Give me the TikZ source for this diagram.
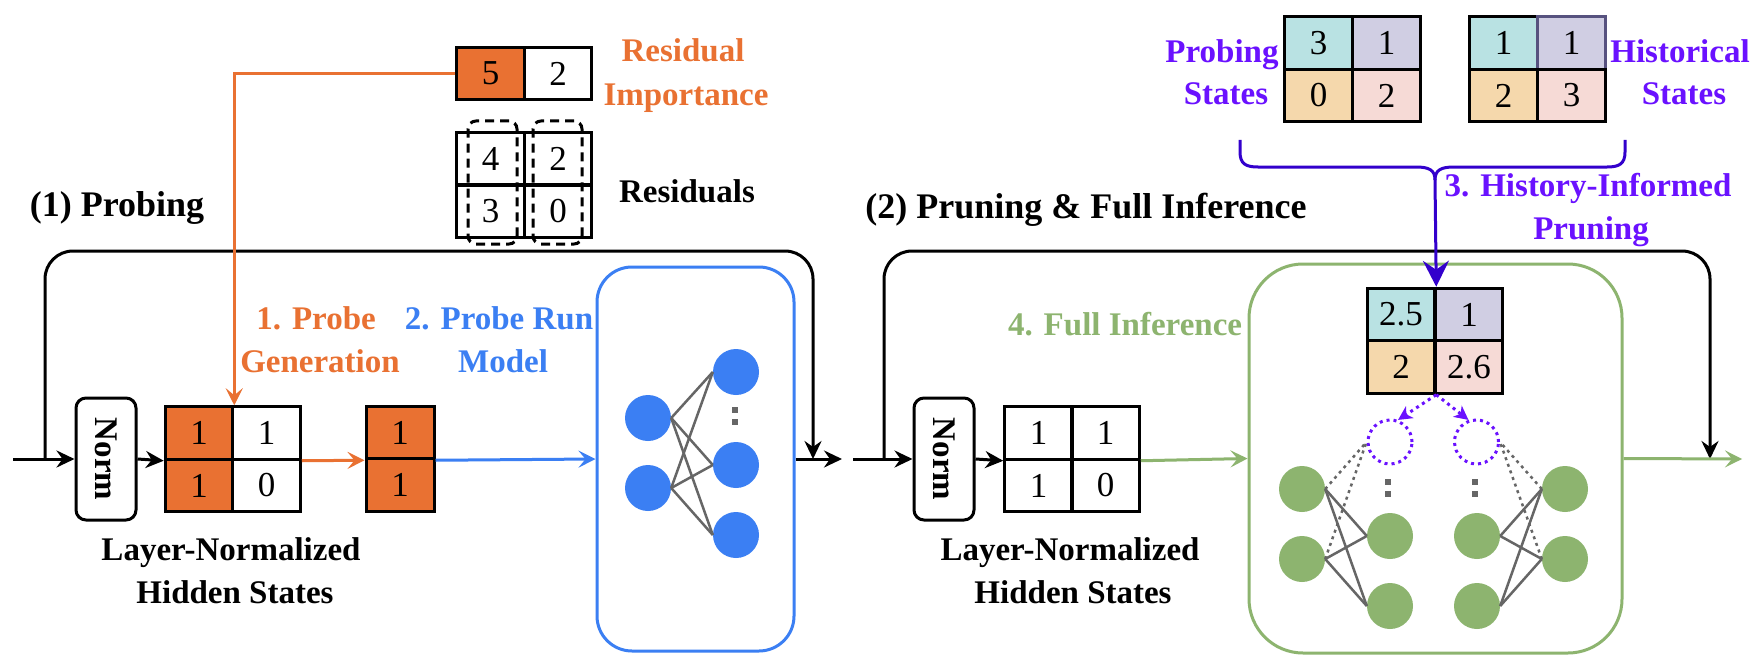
\documentclass[tikz,border=0pt]{standalone}
\usepackage{fontspec}
\usepackage{graphicx}
\setmainfont{Liberation Serif}
\usetikzlibrary{arrows.meta}
\definecolor{cOrange}{HTML}{E97132}
\definecolor{cBlue}{HTML}{3B7FF3}
\definecolor{cGreen}{HTML}{8DB46F}
\definecolor{cPurple}{HTML}{6A11FF}
\definecolor{cIndigo}{HTML}{3300CC}
\definecolor{cTeal}{HTML}{B9E2E3}
\definecolor{cLav}{HTML}{D0CEE3}
\definecolor{cBeige}{HTML}{F5D8AC}
\definecolor{cPink}{HTML}{F6DAD6}
\definecolor{cGray}{HTML}{666666}
\definecolor{cEdge}{HTML}{57527F}
\begin{document}
\begin{tikzpicture}[x=1pt,y=-1pt,
  lbl/.style={font=\fontsize{33}{40}\selectfont\bfseries, inner sep=0pt, anchor=base},
  ttl/.style={font=\fontsize{36}{42}\selectfont\bfseries, inner sep=0pt, anchor=base},
  cell/.style={draw=black, line width=3pt, minimum width=67.5pt, minimum height=52.5pt, inner sep=0pt, font=\fontsize{35}{40}\selectfont},
  normbox/.style={draw=black, line width=3pt, rounded corners=10pt, minimum width=60pt, minimum height=122pt, inner sep=0pt, font=\fontsize{33}{40}\selectfont\bfseries},
  blk/.style={draw=black, line width=3pt, -{Stealth[length=18pt,width=17pt,inset=6pt]}},
  colarrow/.style={line width=3pt, -{Stealth[length=17pt,width=17pt,inset=7pt]}},
  bnode/.style={circle, fill=cBlue, minimum size=46pt, inner sep=0pt},
  gnode/.style={circle, fill=cGreen, minimum size=46pt, inner sep=0pt},
  netline/.style={draw=cGray, line width=2.5pt},
  netdot/.style={draw=cGray, line width=2.5pt, dash pattern=on 3pt off 4pt},
  sq/.style={fill=cGray, minimum size=6pt, inner sep=0pt},
  pdot/.style={draw=cPurple, line width=3pt, dash pattern=on 3pt off 4pt},
  resbox/.style={draw=black, line width=3pt, dash pattern=on 9pt off 6pt, rounded corners=8pt, minimum width=49pt, minimum height=123pt, inner sep=0pt}
]
\useasboundingbox (0,0) rectangle (1750,666);
\fill[white] (0,0) rectangle (1750,666);

% ---------------- Part (1) ----------------
\node[ttl] (t1) at (117,216) {(1) Probing};
\node[lbl, text=cOrange] (tri1) at (683,62) {Residual};
\node[lbl, text=cOrange] (tri2) at (686,106) {Importance};
\node[lbl] (tres) at (687,202) {Residuals};
\node[lbl, text=cOrange] (tpg1) at (316,329) {1. Probe};
\node[lbl, text=cOrange] (tpg2) at (320,372) {Generation};
\node[lbl, text=cBlue] (tpr1) at (499,329) {2. Probe Run};
\node[lbl, text=cBlue] (tpr2) at (503,372) {Model};
\node[lbl] (tln1) at (231,560) {Layer-Normalized};
\node[lbl] (ths1) at (235,603) {Hidden States};

% importance cells
\node[cell, fill=cOrange] (imp1) at (490.5,73.5) {5};
\node[cell] (imp2) at (558,73.5) {2};
% residual cells
\node[cell] (r11) at (490.5,159) {4};
\node[cell] (r12) at (558,159) {2};
\node[cell] (r21) at (490.5,211) {3};
\node[cell] (r22) at (558,211) {0};
\node[resbox] (rd1) at (492.5,182.5) {};
\node[resbox] (rd2) at (557.5,182.5) {};

% norm & hidden states
\node[normbox] (norm1) at (106,459) {\rotatebox{-90}{Norm}};
\node[cell, fill=cOrange] (h11) at (199,433) {1};
\node[cell] (h12) at (266.5,433) {1};
\node[cell, fill=cOrange] (h21) at (199,485.5) {1};
\node[cell] (h22) at (266.5,485.5) {0};
% probe column
\node[cell, fill=cOrange, minimum width=68pt] (p1) at (400,432.5) {1};
\node[cell, fill=cOrange, minimum width=68pt] (p2) at (400,485) {1};

% blue model box
\node[draw=cBlue, line width=3pt, rounded corners=35pt, minimum width=197pt, minimum height=384pt] (bluebox) at (695.5,459) {};
\node[bnode] (bl1) at (648,418) {};
\node[bnode] (bl2) at (648,488) {};
\node[bnode] (br1) at (736,372) {};
\node[bnode] (br2) at (736,465) {};
\node[bnode] (br3) at (736,535) {};
\node[sq] (bd1) at (735,410) {};
\node[sq] (bd2) at (735,422) {};
\foreach \a in {bl1,bl2}{\foreach \b in {br1,br2,br3}{\draw[netline] (\a.east) -- (\b.west);}}

% connectors part 1
\coordinate (in1) at (13,459);
\coordinate (j1) at (45,459);
\coordinate (lt1) at (45,251);
\coordinate (rt1) at (813,251);
\coordinate (e1) at (813,459);
\coordinate (out1) at (842,459);
\draw[blk] (in1) -- (norm1.west);
\draw[blk] (norm1.east) -- (h11.south west);
\draw[blk, rounded corners=28pt] (j1) -- (lt1) -- (rt1) -- (e1);
\draw[colarrow, draw=cOrange] (h12.south east) -- (p1.south west);
\draw[colarrow, draw=cBlue] (p1.south east) -- (bluebox.west);
\draw[colarrow, draw=cOrange] (imp1.west) -| (h11.north east);
\draw[blk] (bluebox.east) -- (out1);

% ---------------- Part (2) ----------------
\node[ttl] (t2) at (1086,218) {(2) Pruning \& Full Inference};
\node[lbl, text=cPurple] (thi1) at (1588,196) {3. History-Informed};
\node[lbl, text=cPurple] (thi2) at (1591,239) {Pruning};
\node[lbl, text=cPurple] (tps1) at (1222,63) {Probing};
\node[lbl, text=cPurple] (tps2) at (1226,105) {States};
\node[lbl, text=cPurple] (ths1r) at (1680,63) {Historical};
\node[lbl, text=cPurple] (ths2r) at (1684,105) {States};
\node[lbl, text=cGreen] (tfi) at (1125,335) {4. Full Inference};
\node[lbl] (tln2) at (1070,560) {Layer-Normalized};
\node[lbl] (ths2) at (1073,603) {Hidden States};

% probing states
\node[cell, fill=cTeal] (ps11) at (1318.5,43) {3};
\node[cell, fill=cLav] (ps12) at (1386.5,43) {1};
\node[cell, fill=cBeige] (ps21) at (1318.5,95.5) {0};
\node[cell, fill=cPink] (ps22) at (1386.5,95.5) {2};
% historical states
\node[cell, fill=cTeal] (hs11) at (1503.5,43) {1};
\node[cell, fill=cLav, draw=cEdge] (hs12) at (1571.5,43) {1};
\node[cell, fill=cBeige] (hs21) at (1503.5,95.5) {2};
\node[cell, fill=cPink] (hs22) at (1571.5,95.5) {3};

% brace
\coordinate (bla) at (1240,140);
\coordinate (bra) at (1625,140);
\coordinate (btip) at (1435,180);
\draw[cIndigo, line width=3pt] (bla) -- (1240,152) .. controls (1240,164) and (1246,167) .. (1258,167) -- (1416,167) .. controls (1429,167) and (1435,170) .. (btip);
\draw[cIndigo, line width=3pt] (bra) -- (1625,152) .. controls (1625,164) and (1619,167) .. (1607,167) -- (1454,167) .. controls (1441,167) and (1435,170) .. (btip);

% norm & hidden states 2
\node[normbox] (norm2) at (944,459) {\rotatebox{-90}{Norm}};
\node[cell] (k11) at (1038.5,433) {1};
\node[cell] (k12) at (1105.5,433) {1};
\node[cell] (k21) at (1038.5,485.5) {1};
\node[cell] (k22) at (1105.5,485.5) {0};

% green box
\node[draw=cGreen, line width=3pt, rounded corners=54pt, minimum width=373pt, minimum height=389pt] (greenbox) at (1435.5,458.5) {};
\node[cell, fill=cTeal] (m11) at (1401,314.5) {2.5};
\node[cell, fill=cLav] (m12) at (1469,314.5) {1};
\node[cell, fill=cBeige] (m21) at (1401,367) {2};
\node[cell, fill=cPink] (m22) at (1469,367) {2.6};

\node[circle, pdot, minimum size=44pt, inner sep=0pt] (dc1) at (1390,442) {};
\node[circle, pdot, minimum size=44pt, inner sep=0pt] (dc2) at (1476.5,442) {};
\node[gnode] (gl1) at (1302,489) {};
\node[gnode] (gl2) at (1302,559) {};
\node[gnode] (gc1) at (1390,536) {};
\node[gnode] (gc2) at (1390,606) {};
\node[gnode] (gc3) at (1477,536) {};
\node[gnode] (gc4) at (1477,606) {};
\node[gnode] (gr1) at (1565,489) {};
\node[gnode] (gr2) at (1565,559) {};
\node[sq] (gd1) at (1388,482) {};
\node[sq] (gd2) at (1388,494) {};
\node[sq] (gd3) at (1475,482) {};
\node[sq] (gd4) at (1475,494) {};
\foreach \a in {gl1,gl2}{\foreach \b in {gc1,gc2}{\draw[netline] (\a.east) -- (\b.west);}}
\foreach \a in {gr1,gr2}{\foreach \b in {gc3,gc4}{\draw[netline] (\a.west) -- (\b.east);}}
\draw[netdot] (gl1.east) -- (dc1.west);
\draw[netdot] (gl2.east) -- (dc1.west);
\draw[netdot] (gr1.west) -- (dc2.east);
\draw[netdot] (gr2.west) -- (dc2.east);
\draw[pdot, -{Stealth[length=14pt,width=14pt,inset=4pt]}] (m21.south east) -- (dc1.70);
\draw[pdot, -{Stealth[length=14pt,width=14pt,inset=4pt]}] (m21.south east) -- (dc2.110);

% connectors part 2
\coordinate (in2) at (853,459);
\coordinate (j2) at (884,459);
\coordinate (lt2) at (884,251);
\coordinate (rt2) at (1710,251);
\coordinate (e2) at (1710,459);
\coordinate (out2) at (1742,459);
\draw[blk] (in2) -- (norm2.west);
\draw[blk, rounded corners=28pt] (j2) -- (lt2) -- (rt2) -- (e2);
\draw[blk] (norm2.east) -- (k11.south west);
\draw[colarrow, draw=cGreen] (k12.south east) -- (greenbox.west);
\draw[colarrow, draw=cGreen] (greenbox.east) -- (out2);
\draw[cIndigo, line width=3pt, -{Stealth[length=26pt,width=26pt,inset=9pt]}] (btip) -- (m11.north east);
\end{tikzpicture}
\end{document}
